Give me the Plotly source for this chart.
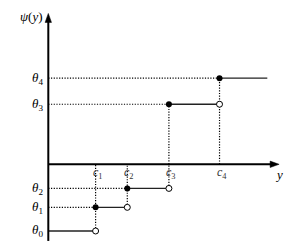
import plotly.graph_objects as go

# ---- data ----
c_vals = [1.0, 1.67, 2.55, 3.62]
theta_vals = [-1.41, -0.91, -0.51, 1.27, 1.82]
c_labels = ["<i>c</i><sub>1</sub>", "<i>c</i><sub>2</sub>", "<i>c</i><sub>3</sub>", "<i>c</i><sub>4</sub>"]
theta_labels = ["<i>θ</i><sub>0</sub>", "<i>θ</i><sub>1</sub>", "<i>θ</i><sub>2</sub>",
                "<i>θ</i><sub>3</sub>", "<i>θ</i><sub>4</sub>"]
x_step_end = 4.63
x_axis_end = 4.88
y_axis_top = 3.19
y_axis_bottom = -1.62

# ---- layout scale ----
W, H = 307, 250
k = 47.3            # px per unit
x0 = -48.3 / k
x1 = x0 + W / k
y1 = 164.3 / k
y0 = y1 - H / k

FONT = "Liberation Serif"
DOT = "1.2px,1.5px"
fig = go.Figure()

# dotted guide lines: horizontal from y-axis to filled dot
for i in range(1, 5):
    fig.add_trace(go.Scatter(x=[0, c_vals[i - 1]], y=[theta_vals[i], theta_vals[i]],
                             mode="lines", line=dict(color="black", width=1.2, dash=DOT),
                             hoverinfo="skip", showlegend=False))
# dotted vertical lines at each c
for i in range(1, 5):
    top = max(theta_vals[i], theta_vals[i - 1], 0)
    bot = min(theta_vals[i], theta_vals[i - 1], 0)
    fig.add_trace(go.Scatter(x=[c_vals[i - 1], c_vals[i - 1]], y=[bot, top],
                             mode="lines", line=dict(color="black", width=1.2, dash=DOT),
                             hoverinfo="skip", showlegend=False))

# step segments
starts = [0] + c_vals
ends = c_vals + [x_step_end]
for i in range(5):
    fig.add_trace(go.Scatter(x=[starts[i], ends[i]], y=[theta_vals[i], theta_vals[i]],
                             mode="lines", line=dict(color="#222", width=1.3),
                             hoverinfo="skip", showlegend=False))

# hollow markers (open end)
fig.add_trace(go.Scatter(x=c_vals, y=theta_vals[:4], mode="markers",
                         marker=dict(symbol="circle", size=6, color="white",
                                     line=dict(color="black", width=1)),
                         hoverinfo="skip", showlegend=False))
# filled markers
fig.add_trace(go.Scatter(x=c_vals, y=theta_vals[1:], mode="markers",
                         marker=dict(symbol="circle", size=6, color="black"),
                         hoverinfo="skip", showlegend=False))

# axes lines
fig.add_shape(type="line", x0=0, y0=y_axis_bottom, x1=0, y1=y_axis_top - 6 / k,
              line=dict(color="black", width=2))
fig.add_shape(type="line", x0=0, y0=0, x1=x_axis_end - 6 / k, y1=0,
              line=dict(color="black", width=2))
# arrow heads
hw, hl = 3.2 / k, 9 / k
fig.add_shape(type="path",
              path=f"M {-hw} {y_axis_top - hl} L 0 {y_axis_top} L {hw} {y_axis_top - hl} Z",
              fillcolor="black", line=dict(color="black", width=0.5))
fig.add_shape(type="path",
              path=f"M {x_axis_end - hl} {-hw} L {x_axis_end} 0 L {x_axis_end - hl} {hw} Z",
              fillcolor="black", line=dict(color="black", width=0.5))

# tick labels
for cv, lab in zip(c_vals, c_labels):
    fig.add_annotation(x=cv, y=0, xref="x", yref="y", text=lab, showarrow=False,
                       xshift=2, yshift=-9, font=dict(family=FONT, size=12, color="#333"))
for tv, lab in zip(theta_vals, theta_labels):
    fig.add_annotation(x=0, y=tv, xref="x", yref="y", text=lab, showarrow=False,
                       xanchor="right", xshift=-3, font=dict(family=FONT, size=13, color="black"))
fig.add_annotation(x=0, y=y_axis_top, xref="x", yref="y", text="<i>ψ</i>(<i>y</i>)",
                   showarrow=False, xanchor="right", xshift=-3, yshift=-3,
                   font=dict(family=FONT, size=13, color="black"))
fig.add_annotation(x=x_axis_end, y=0, xref="x", yref="y", text="<i>y</i>",
                   showarrow=False, xshift=0, yshift=-10,
                   font=dict(family=FONT, size=13, color="black"))

fig.update_layout(width=W, height=H, margin=dict(l=0, r=0, t=0, b=0),
                  plot_bgcolor="white", paper_bgcolor="white",
                  xaxis=dict(range=[x0, x1], visible=False, fixedrange=True),
                  yaxis=dict(range=[y0, y1], visible=False, fixedrange=True))
fig.write_html("out.html", config={"displayModeBar": False},
               post_script="document.body.style.margin='0';document.body.style.overflow='hidden';")
